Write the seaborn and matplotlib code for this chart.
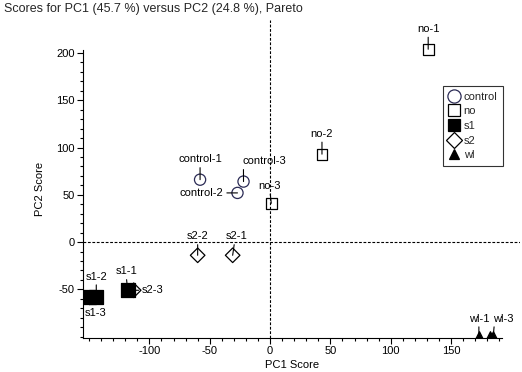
import matplotlib
matplotlib.use("Agg")
import matplotlib.pyplot as plt
from matplotlib.lines import Line2D
from matplotlib.ticker import FixedLocator
import numpy as np
import seaborn as sns
import pandas as pd

sns.set_style("white")
plt.rcParams['font.family'] = ['Liberation Sans', 'DejaVu Sans']
plt.rcParams['axes.unicode_minus'] = False

# ---- data ----
labels = ["control-1", "control-2", "control-3",
          "no-1", "no-2", "no-3",
          "s1-1", "s1-2", "s1-3",
          "s2-1", "s2-2", "s2-3",
          "wl-1", "wl-2", "wl-3"]
groups = ["control"] * 3 + ["no"] * 3 + ["s1"] * 3 + ["s2"] * 3 + ["wl"] * 3
pc1 = [-58, -27, -22,
       131, 43, 1,
       -118, -144, -150,
       -31, -60, -113,
       173, 182, 185]
pc2 = [66, 52, 64,
       204, 93, 41,
       -51, -58, -58,
       -14, -14, -51,
       -98, -98, -98]
group_order = ["control", "no", "s1", "s2", "wl"]
xticks = [-100, -50, 0, 50, 100, 150]
yticks = [-50, 0, 50, 100, 150, 200]

df = pd.DataFrame({"label": labels, "group": groups, "PC1": pc1, "PC2": pc2})

# ---- styles ----
ctrl_col = "#2b2b55"
style = {
    "control": dict(marker="o", s=65, face="none", edge=ctrl_col),
    "no": dict(marker="s", s=60, face="none", edge="black"),
    "s1": dict(marker="s", s=105, face="black", edge="black"),
    "s2": dict(marker="D", s=55, face="none", edge="black"),
    "wl": dict(marker="^", s=30, face="black", edge="black"),
}

fig = plt.figure(figsize=(5.22, 3.72), dpi=100)
ax = fig.add_axes([0.159, 0.0914, 0.837, 0.855])

ax.axhline(0, color="black", lw=0.8, ls=(0, (2.5, 1.5)), zorder=1)
ax.axvline(0, color="black", lw=0.8, ls=(0, (2.5, 1.5)), zorder=1)

for g in group_order:
    sub = df[df.group == g]
    st = style[g]
    sns.scatterplot(data=sub, x="PC1", y="PC2", ax=ax, marker=st["marker"],
                    s=st["s"], linewidth=0.9, zorder=3)
    coll = ax.collections[-1]
    coll.set_facecolor(st["face"])
    coll.set_edgecolor(st["edge"])

# labels with leader lines: (dx, dy) in points, ha, va, relpos
ann = {
    "control-1": (0, 11, "center", "bottom", (0.5, 0)),
    "control-2": (-10, 0, "right", "center", (1, 0.5)),
    "control-3": (-1, 11, "left", "bottom", (0.03, 0)),
    "no-1": (0, 11, "center", "bottom", (0.5, 0)),
    "no-2": (0, 11, "center", "bottom", (0.5, 0)),
    "no-3": (-1, 9, "center", "bottom", (0.5, 0)),
    "s1-1": (-1, 10, "center", "bottom", (0.5, 0)),
    "s1-2": (0, 11, "center", "bottom", (0.5, 0)),
    "s1-3": (5, -8, "center", "top", (0.2, 1)),
    "s2-1": (3, 10, "center", "bottom", (0.4, 0)),
    "s2-2": (0, 10, "center", "bottom", (0.5, 0)),
    "s2-3": (6, 0, "left", "center", (0, 0.5)),
    "wl-1": (0, 8, "center", "bottom", (0.5, 0)),
    "wl-3": (0, 8, "left", "bottom", (0.05, 0)),
}
for lab, x, y in zip(df.label, df.PC1, df.PC2):
    if lab not in ann:
        continue
    dx, dy, ha, va, rp = ann[lab]
    ax.annotate(lab, xy=(x, y), xytext=(dx, dy), textcoords="offset points",
                ha=ha, va=va, fontsize=8, color="black", zorder=4,
                arrowprops=dict(arrowstyle="-", lw=0.8, color="black",
                                shrinkA=0, shrinkB=0, relpos=rp))

ax.set_xlim(-155, 207)
ax.set_ylim(-101.5, 235)
ax.xaxis.set_major_locator(FixedLocator(xticks))
ax.yaxis.set_major_locator(FixedLocator(yticks))
ax.xaxis.set_minor_locator(FixedLocator([v for v in np.arange(-150, 191, 10) if v not in xticks]))
ax.yaxis.set_minor_locator(FixedLocator([v for v in np.arange(-100, 201, 10) if v not in yticks]))
ax.tick_params(axis="both", which="major", length=4, width=0.8, labelsize=8,
               colors="black", direction="out", pad=2)
ax.tick_params(axis="both", which="minor", length=2.5, width=0.8, direction="out",
               colors="black")
ax.tick_params(bottom=True, left=True, which="both")

for side in ["top", "right"]:
    ax.spines[side].set_visible(False)
ax.spines["left"].set_bounds(-101.5, 203)
ax.spines["bottom"].set_bounds(-155, 192)
for side in ["left", "bottom"]:
    ax.spines[side].set_color("black")
    ax.spines[side].set_linewidth(0.8)

ax.set_xlabel("PC1 Score", fontsize=8, color="black")
ax.set_ylabel("PC2 Score", fontsize=8, color="black")
ax.xaxis.set_label_coords(0.478, -0.07)
ax.yaxis.set_label_coords(-0.088, 0.47)

fig.text(0.008, 0.977, "Scores for PC1 (45.7 %) versus PC2 (24.8 %), Pareto",
         fontsize=9, ha="left", va="center")

msizes = {"control": 9.5, "no": 9, "s1": 9, "s2": 8, "wl": 7.5}
handles = []
for g in group_order:
    st = style[g]
    handles.append(Line2D([], [], ls="none", marker=st["marker"],
                          markersize=msizes[g],
                          markerfacecolor=st["face"], markeredgecolor=st["edge"],
                          markeredgewidth=0.9, label=g))
leg = ax.legend(handles=handles, loc="upper left", bbox_to_anchor=(0.823, 0.792),
                frameon=True, fancybox=False, fontsize=8, handlelength=1.0,
                handletextpad=0.4, borderpad=0.5, labelspacing=0.42,
                borderaxespad=0)
leg.get_frame().set_edgecolor("black")
leg.get_frame().set_linewidth(0.8)

fig.savefig("out.png", dpi=100)
